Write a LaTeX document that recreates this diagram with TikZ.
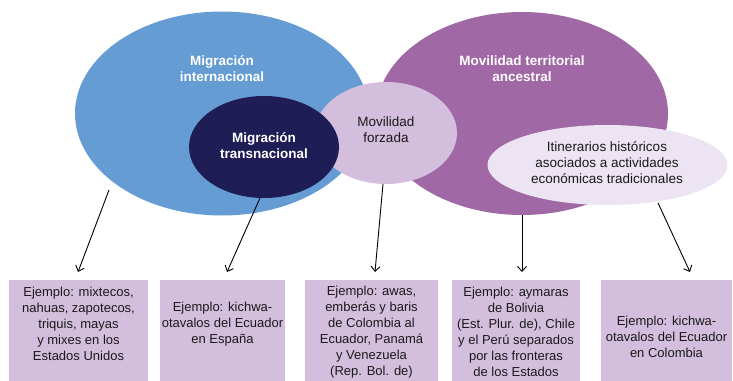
\documentclass[tikz,border=0pt]{standalone}
\usepackage{fontspec}
\setmainfont{Liberation Sans}
\usetikzlibrary{shapes.geometric,arrows.meta}
\definecolor{cblue}{HTML}{659CD3}
\definecolor{cpurple}{HTML}{A068A5}
\definecolor{cnavy}{HTML}{1F1D55}
\definecolor{clilac}{HTML}{D4BEDD}
\definecolor{cpale}{HTML}{ECE4F2}
\definecolor{cbox}{HTML}{D4BEDD}
\definecolor{ctext}{HTML}{1A1A1A}
\begin{document}
\begin{tikzpicture}[x=1pt,y=-1pt,
  ell/.style={ellipse,inner sep=0pt,draw=none},
  wlbl/.style={text=white,font=\fontsize{13.5}{16}\selectfont\bfseries,align=center,inner sep=0pt},
  dlbl/.style={text=ctext,font=\fontsize{13.5}{16}\selectfont,align=center,inner sep=0pt},
  box/.style={rectangle,fill=cbox,inner sep=0pt,anchor=north west,minimum height=130pt},
  btxt/.style={font=\fontsize{13}{16}\selectfont,align=center,inner sep=0pt,text=ctext},
  arr/.style={-{Straight Barb[length=5pt,width=9pt]},line width=0.9pt}]
\useasboundingbox (0,0) rectangle (733,380);
\clip (0,0) rectangle (733,380);
% ellipses
\node[ell,fill=cblue,minimum width=294pt,minimum height=204pt] (mi) at (222,113.5) {};
\node[ell,fill=cpurple,minimum width=292pt,minimum height=203pt] (mta) at (522,113.5) {};
\node[ell,fill=clilac,minimum width=142pt,minimum height=102pt] (mf) at (386,133) {};
\node[ell,fill=cnavy,minimum width=150pt,minimum height=102pt] (mt) at (264,147) {};
\node[ell,fill=cpale,minimum width=240pt,minimum height=80pt] (it) at (607.5,165) {};
% labels
\node[wlbl] at (222,69) {Migración\\internacional};
\node[wlbl] at (264,146) {Migración\\transnacional};
\node[wlbl] at (522,69) {Movilidad territorial\\ancestral};
\node[dlbl] at (386,130) {Movilidad\\forzada};
\node[dlbl] at (607,163) {Itinerarios históricos\\asociados a actividades\\económicas tradicionales};
% boxes
\node[box,minimum width=139pt] (b1) at (9,280) {};
\node[box,minimum width=125pt] (b2) at (160,280) {};
\node[box,minimum width=133pt] (b3) at (305,280) {};
\node[box,minimum width=128pt] (b4) at (452,280) {};
\node[box,minimum width=131pt] (b5) at (601,280) {};
\node[btxt] at (78.5,324) {Ejemplo: mixtecos,\\nahuas, zapotecos,\\triquis, mayas\\y mixes en los\\Estados Unidos};
\node[btxt] at (222.5,324.5) {Ejemplo: kichwa-\\otavalos del Ecuador\\en España};
\node[btxt] at (371.5,332) {Ejemplo: awas,\\emberás y baris\\de Colombia al\\Ecuador, Panamá\\y Venezuela\\(Rep. Bol. de)};
\node[btxt] at (516,332) {Ejemplo: aymaras\\de Bolivia\\(Est. Plur. de), Chile\\y el Perú separados\\por las fronteras\\de los Estados};
\node[btxt] at (666.5,337) {Ejemplo: kichwa-\\otavalos del Ecuador\\en Colombia};
% arrows
\coordinate (s1) at (109,190);
\coordinate (t1) at (78,272);
\coordinate (s2) at (260,198);
\coordinate (t2) at (227,272);
\coordinate (s3) at (383,184);
\coordinate (t3) at (375,272);
\coordinate (s4) at (522,215);
\coordinate (t4) at (522,272);
\coordinate (s5) at (658,203);
\coordinate (t5) at (690,272);
\draw[arr] (s1) -- (t1);
\draw[arr] (s2) -- (t2);
\draw[arr] (s3) -- (t3);
\draw[arr] (s4) -- (t4);
\draw[arr] (s5) -- (t5);
\end{tikzpicture}
\end{document}
